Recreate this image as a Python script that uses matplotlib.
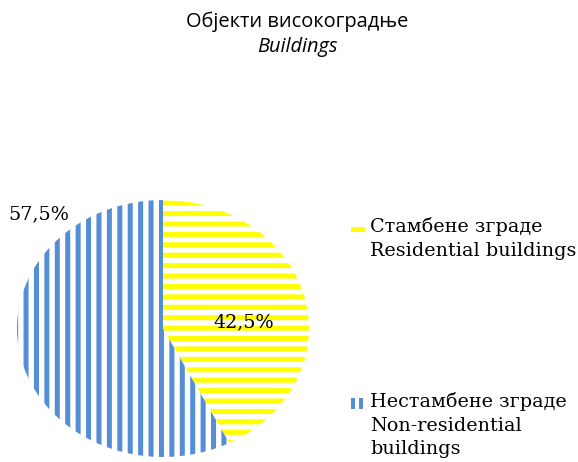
import matplotlib
matplotlib.use("Agg")
import matplotlib.pyplot as plt
from matplotlib.patches import Rectangle

# data
labels = ["Стамбене зграде\nResidential buildings",
          "Нестамбене зграде\nNon-residential\nbuildings"]
shares = [42.5, 57.5]
colors = ["#ffff00", "#558ed5"]
hatches = ["--", "||"]

DPI = 125
W, H = 578, 462
plt.rcParams["hatch.linewidth"] = 2.9

fig = plt.figure(figsize=(W / DPI, H / DPI), dpi=DPI)
ax = fig.add_axes([17 / W, 5 / H, 292 / W, 257 / H])

wedges, texts, autotexts = ax.pie(
    shares, startangle=90, counterclock=False, radius=1.0,
    autopct=lambda p: f"{p:.1f}%".replace(".", ","), pctdistance=0.6,
    textprops=dict(family="DejaVu Serif", fontsize=11, color="black"))

for w, c, h in zip(wedges, colors, hatches):
    w.set_facecolor("white")
    w.set_edgecolor(c)
    w.set_hatch(h)
    w.set_linewidth(0)

# label positions as placed in the original (57,5% was moved by hand)
autotexts[0].set_position((0.555, 0.05))
autotexts[1].set_position((-0.85, 0.89))

ax.set_aspect("auto")
ax.set_xlim(-1, 1)
ax.set_ylim(-1, 1)

# legend, drawn by hand so the marker sits beside the first line
entry_top = [217, 392]      # px from top of figure
for lab, c, top in zip(labels, colors, entry_top):
    fig.text(370 / W, 1 - top / H, lab, ha="left", va="top",
             family="DejaVu Serif", fontsize=11, linespacing=1.4)
    if c == colors[0]:
        fig.add_artist(Rectangle((351 / W, 1 - (top + 15) / H), 14 / W, 5 / H,
                                 transform=fig.transFigure, facecolor=c, lw=0))
    else:
        for dx in (0, 8):
            fig.add_artist(Rectangle(((351 + dx) / W, 1 - (top + 17) / H), 4 / W, 11 / H,
                                     transform=fig.transFigure, facecolor=c, lw=0))

fig.text(0.515, 1 - 22 / H, "Објекти високоградње", ha="center", va="center",
         family="Open Sans", fontsize=11.5)
fig.text(0.515, 1 - 47 / H, "Buildings", ha="center", va="center",
         family="Open Sans", fontsize=11.5, style="italic")

fig.savefig("out.png", dpi=DPI)
